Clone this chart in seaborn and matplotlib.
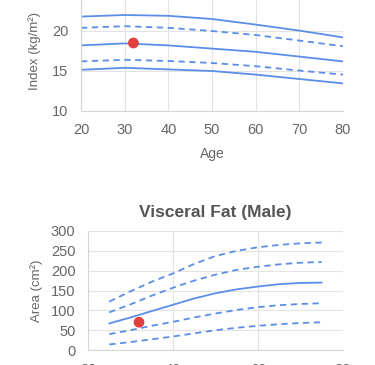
import numpy as np
import pandas as pd
import matplotlib
matplotlib.use("Agg")
import matplotlib.pyplot as plt
import seaborn as sns

# --- BMI chart (top, partially cropped) ---
bmi_ages = [20, 30, 40, 50, 60, 70, 80]
bmi_upper = [21.8, 22.0, 21.9, 21.5, 20.8, 20.05, 19.2]
bmi_upper_dash = [20.4, 20.6, 20.4, 20.0, 19.5, 18.8, 18.1]
bmi_mid = [18.2, 18.45, 18.2, 17.8, 17.4, 16.8, 16.2]
bmi_lower_dash = [16.2, 16.4, 16.25, 16.0, 15.6, 15.05, 14.55]
bmi_lower = [15.15, 15.4, 15.2, 15.0, 14.55, 14.0, 13.45]
bmi_point = (32, 18.5)

# --- Visceral fat chart (bottom) ---
vf_ages = [25, 30, 35, 40, 45, 50, 55, 60, 65, 70, 75]
vf_p97 = [122, 148, 172, 193, 217, 237, 250, 259, 265, 269, 271]
vf_p85 = [95, 115, 137, 157, 175, 190, 202, 210, 216, 220, 222]
vf_p50 = [67, 82, 98, 114, 130, 143, 153, 160, 166, 169, 170]
vf_p15 = [40, 50, 61, 71, 82, 92, 101, 108, 113, 116, 118]
vf_p3 = [14, 20, 27, 34, 42, 50, 56, 61, 65, 68, 70]
vf_point = (32, 70)

LINE = "#5b8ee8"
DOT = "#e0413f"
GRID = "#e3e3e3"
TXT = "#666666"

sns.set_style("white")
plt.rcParams["font.family"] = ["Liberation Sans", "DejaVu Sans"]

fig = plt.figure(figsize=(3.75, 3.65), dpi=100)
W, H = 375, 365


def px_axes(left, right, top, bottom):
    return fig.add_axes([left / W, 1 - bottom / H, (right - left) / W, (bottom - top) / H])


def style(ax):
    ax.grid(True, color=GRID, lw=0.8)
    for s in ["top", "right"]:
        ax.spines[s].set_visible(False)
    for s in ["left", "bottom"]:
        ax.spines[s].set_color("#d6d6d6")
        ax.spines[s].set_linewidth(0.8)
    ax.tick_params(colors=GRID, labelcolor=TXT, labelsize=10.5, length=5, width=0.8, pad=4)
    ax.set_axisbelow(True)


def draw(ax, ages, series, point):
    for vals, dashed in series:
        df = pd.DataFrame({"age": ages, "val": vals})
        ln = sns.lineplot(data=df, x="age", y="val", ax=ax, color=LINE, lw=1.3)
        if dashed:
            ln.lines[-1].set_dashes((3.5, 2.5))
    sns.scatterplot(x=[point[0]], y=[point[1]], ax=ax, color=DOT, s=60,
                    edgecolor="none", zorder=5)


ax1 = px_axes(81, 343, -9, 111)
draw(ax1, bmi_ages, [(bmi_upper, False), (bmi_upper_dash, True), (bmi_mid, False),
                     (bmi_lower_dash, True), (bmi_lower, False)], bmi_point)
style(ax1)
ax1.set_xlim(20, 80)
ax1.set_ylim(10, 25)
ax1.set_xticks([20, 30, 40, 50, 60, 70, 80])
ax1.set_yticks([10, 15, 20, 25])
ax1.set_xlabel("Age", color=TXT, fontsize=10, labelpad=7)
ax1.set_ylabel("Index (kg/m²)", color=TXT, fontsize=9.5, labelpad=8)

ax2 = px_axes(88, 343, 231, 350)
draw(ax2, vf_ages, [(vf_p97, True), (vf_p85, True), (vf_p50, False),
                    (vf_p15, True), (vf_p3, True)], vf_point)
style(ax2)
ax2.set_xlim(20, 80)
ax2.set_ylim(0, 300)
ax2.set_xticks([20, 40, 60, 80])
ax2.set_yticks([0, 50, 100, 150, 200, 250, 300])
ax2.set_xlabel("")
ax2.set_ylabel("Area (cm²)", color=TXT, fontsize=9.5, labelpad=6)
ax2.set_title("Visceral Fat (Male)", color="#555555", fontsize=12.5,
              fontweight="bold", pad=10)

fig.savefig("out.png", dpi=100)
